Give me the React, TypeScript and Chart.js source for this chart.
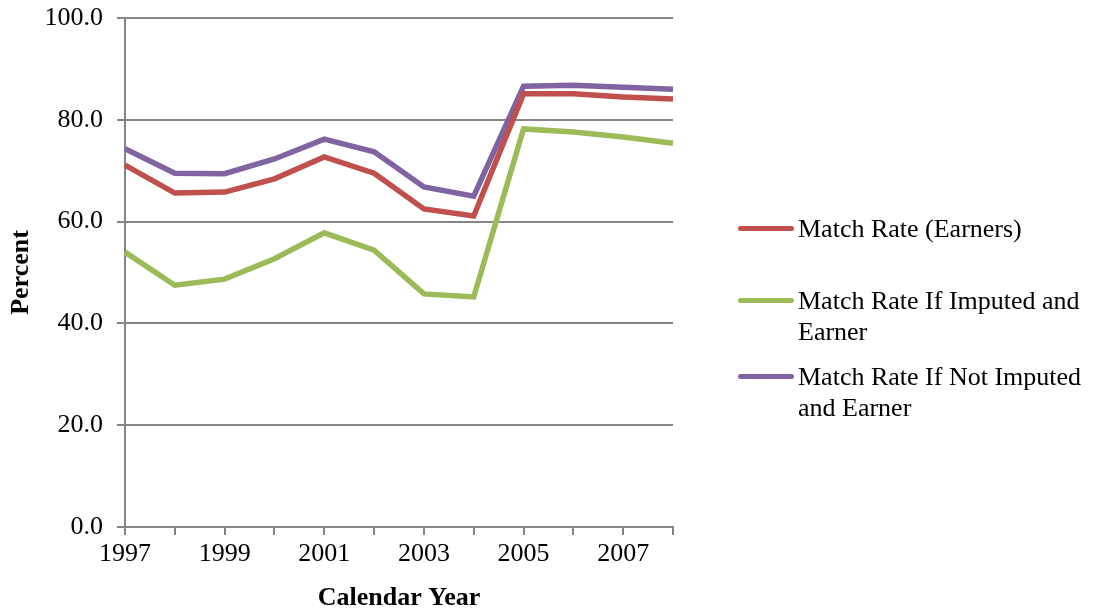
import React, { useEffect, useRef } from "react";
import { Chart, registerables } from "chart.js";

Chart.register(...registerables);

const years = ["1997","1998","1999","2000","2001","2002","2003","2004","2005","2006","2007","2008"];
const earners = [71.1, 65.6, 65.8, 68.4, 72.7, 69.5, 62.5, 61.1, 85.1, 85.1, 84.5, 84.1];
const imputedEarner = [54.0, 47.5, 48.7, 52.7, 57.8, 54.4, 45.8, 45.2, 78.2, 77.6, 76.6, 75.4];
const notImputedEarner = [74.3, 69.5, 69.4, 72.3, 76.2, 73.7, 66.8, 65.0, 86.6, 86.8, 86.4, 86.0];

const seriesNames = ["Match Rate (Earners)", "Match Rate If Imputed and Earner", "Match Rate If Not Imputed and Earner"];
const legendLines = [["Match Rate (Earners)"], ["Match Rate If Imputed and", "Earner"], ["Match Rate If Not Imputed", "and Earner"]];
const colors = ["#C0504D", "#9BBB59", "#8064A2"];

const FONT = "'Liberation Serif', 'Times New Roman', serif";
const GRID = "#868686";

export default function App() {
  const ref = useRef<HTMLCanvasElement | null>(null);
  useEffect(() => {
    if (!ref.current) return;
    const data = [earners, imputedEarner, notImputedEarner];
    const chart = new Chart(ref.current, {
      type: "line",
      data: {
        labels: years,
        datasets: data.map((d, i) => ({
          label: seriesNames[i],
          data: d,
          borderColor: colors[i],
          backgroundColor: colors[i],
          borderWidth: 5.5,
          pointRadius: 0,
          tension: 0,
        })),
      },
      options: {
        animation: false,
        responsive: false,
        layout: { padding: { left: 0, right: 425, top: 18, bottom: 0 } },
        plugins: { legend: { display: false }, tooltip: { enabled: false } },
        scales: {
          x: {
            type: "category",
            offset: false,
            grid: { display: true, drawOnChartArea: false, drawTicks: true, tickLength: 8, color: GRID, lineWidth: 2 },
            border: { display: true, color: GRID, width: 2 },
            ticks: {
              autoSkip: false,
              maxRotation: 0,
              padding: 4,
              color: "#000",
              font: { family: FONT, size: 26 },
              callback: (_v: any, idx: number) => (idx % 2 === 0 ? years[idx] : ""),
            },
            title: { display: true, text: "Calendar Year", color: "#000", font: { family: FONT, size: 26, weight: "bold" }, padding: { top: 0, bottom: 0 } },
            afterFit: (s: any) => { s.height = 87; s.paddingLeft = 0; s.paddingRight = 0; },
          },
          y: {
            min: 0,
            max: 100,
            grid: { color: GRID, lineWidth: 2, tickLength: 8, drawTicks: true },
            border: { display: true, color: GRID, width: 2 },
            ticks: {
              stepSize: 20,
              padding: 14,
              color: "#000",
              font: { family: FONT, size: 26 },
              callback: (v: any) => Number(v).toFixed(1),
            },
            title: { display: true, text: "Percent", color: "#000", font: { family: FONT, size: 26, weight: "bold" }, padding: { top: 6, bottom: 0 } },
            afterFit: (s: any) => { s.width = 125; s.paddingTop = 0; s.paddingBottom = 0; },
          },
        },
      },
    });
    return () => chart.destroy();
  }, []);

  const legendTops = [212.5, 284.5, 360.5];
  return (
    <div style={{ position: "absolute", left: 0, top: 0, width: 1098, height: 614, background: "#fff" }}>
      <canvas ref={ref} width={1098} height={614} style={{ position: "absolute", left: 0, top: 0 }} />
      {legendLines.map((lines, i) => (
        <div key={i} style={{ position: "absolute", left: 738, top: legendTops[i], fontFamily: FONT, fontSize: 26, lineHeight: "31px", color: "#000" }}>
          <div style={{ position: "absolute", left: 0, top: 13, width: 56, height: 5.5, borderRadius: 3, background: colors[i] }} />
          <div style={{ marginLeft: 60, whiteSpace: "nowrap" }}>
            {lines.map((l, j) => (<div key={j}>{l}</div>))}
          </div>
        </div>
      ))}
    </div>
  );
}
